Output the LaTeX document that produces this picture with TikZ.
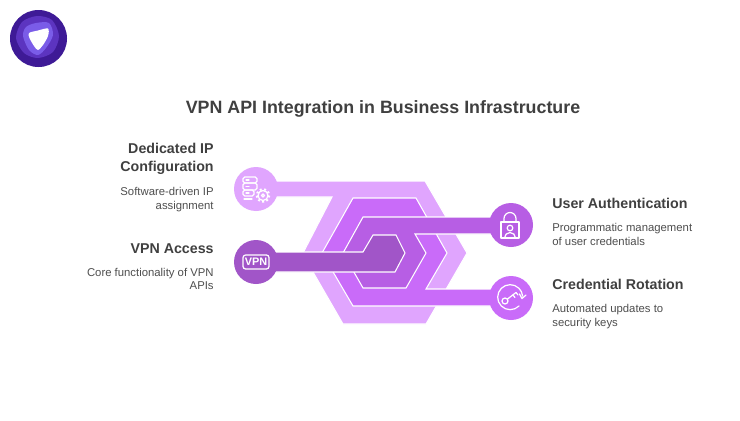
\documentclass[tikz,border=0pt]{standalone}
\usepackage{fontspec}
\setmainfont{Liberation Sans}

\tikzset{
    titletext/.style={font=\fontsize{10.15pt}{12pt}\selectfont\bfseries,text=vpn_text},
    headleft/.style={anchor=east,align=right,inner sep=0,font=\fontsize{8.1pt}{10.3pt}\selectfont\bfseries,text=vpn_text},
    headright/.style={anchor=west,align=left,inner sep=0,font=\fontsize{8.1pt}{10.3pt}\selectfont\bfseries,text=vpn_text},
    subleft/.style={anchor=east,align=right,inner sep=0,font=\fontsize{6.45pt}{7.5pt}\selectfont,text=vpn_sub},
    subright/.style={anchor=west,align=left,inner sep=0,font=\fontsize{6.45pt}{7.5pt}\selectfont,text=vpn_sub},
    iconbg/.style={shape=circle,minimum size=0.88cm,inner sep=0},
    band/.style={draw=white,line width=0.6pt,line join=miter},
    icon/.style={draw=white,line width=0.7pt,line join=round,line cap=round},
}

\begin{document}
\begin{tikzpicture}[x=0.02cm,y=-0.02cm]
    \definecolor{vpn_text}{RGB}{64,64,64}
    \definecolor{vpn_sub}{RGB}{78,78,78}
    \definecolor{vpn_light}{RGB}{224,165,254}
    \definecolor{vpn_mid}{RGB}{201,107,249}
    \definecolor{vpn_inner}{RGB}{183,94,228}
    \definecolor{vpn_core}{RGB}{161,85,200}
    \definecolor{logo_dark}{RGB}{62,26,150}
    \definecolor{logo_mid}{RGB}{92,52,192}
    \definecolor{logo_light}{RGB}{122,92,232}

    \useasboundingbox (0,0) rectangle (740,420);
    \fill[white] (0,0) rectangle (740,420);

    % logo
    \fill[logo_dark] (38.5,38.5) circle (28.5);
    \fill[logo_mid] plot[smooth cycle] coordinates {(37,16) (52,20) (59,36) (53,52) (38,58) (24,53) (16,38) (22,22)};
    \fill[logo_light] plot[smooth cycle] coordinates {(36,23) (49,23) (53,35) (46,48) (38,55) (29,50) (23,36) (26,27)};
    \fill[white] plot[smooth cycle] coordinates {(29,33) (38,30.5) (48,28.5) (48,36) (43,45) (38,50) (34,46) (29.5,38)};

    \node[titletext] (title) at (383,109) {VPN API Integration in Business Infrastructure};

    % the four bands, back to front
    \draw[band,fill=vpn_light] (256,181) to (425,181) to (467,253) to (426,324) to (343,324) to (313,272) to (303,253) to (332,197) to (256,197) to cycle;
    \node[iconbg,fill=vpn_light] (config) at (256,189) {};

    \draw[band,fill=vpn_mid] (353,198) to (416,198) to (447,253) to (426,289) to (511,289) to (511,306) to (353,306) to (322,253) to cycle;
    \node[iconbg,fill=vpn_mid] (rotation) at (511,298) {};

    \draw[band,fill=vpn_inner] (363,217) to (511,217) to (511,234) to (415,234) to (426,253) to (406,288) to (363,288) to (343,253) to cycle;
    \node[iconbg,fill=vpn_inner] (auth) at (511,225) {};

    \draw[band,fill=vpn_core] (373,235) to (396,235) to (405,253) to (395,272) to (256,272) to (256,252) to (363,252) to cycle;
    \node[iconbg,fill=vpn_core] (access) at (256,262) {};

    % server and gear
    \draw[icon,rounded corners=1pt] (243,177) rectangle (257,183);
    \draw[icon,rounded corners=1pt] (243,183) rectangle (257,190);
    \draw[icon,rounded corners=1pt] (243,190) rectangle (254,196);
    \draw[icon] (246,180) to (249,180);
    \draw[icon] (246,186.5) to (249,186.5);
    \draw[icon] (246,193) to (249,193);
    \draw[icon] (244,199) to (252,199);
    \draw[icon] (263,195.5) circle (5);
    \draw[icon,line cap=butt,line width=1.2pt,dash pattern=on 1.1pt off 1.35pt] (263,195.5) circle (6.2);
    \draw[icon] (263,195.5) circle (1.6);

    % vpn badge
    \draw[icon,rounded corners=1.5pt] (243,255) rectangle (269,269);
    \node[text=white,inner sep=0,font=\fontsize{6.2pt}{7pt}\selectfont\bfseries] (vpnbadge) at (256,262) {VPN};

    % lock with user
    \draw[icon] (501,222) rectangle (519,238);
    \draw[icon] (504,222) to (504,218.5) arc (180:360:6) to (516,222);
    \draw[icon] (510,228) circle (2.8);
    \draw[icon] (504.5,238) arc (180:360:5.5);

    % key with rotation arrow
    \draw[icon] (519,306) arc (45:355:12.5);
    \draw[icon] (519.5,294) to (522,298.5) to (526,295);
    \draw[icon] (505,301) circle (3);
    \draw[icon] (507.5,299) to (516,292.5);
    \draw[icon] (513,295) to (515,297.5);
    \draw[icon] (516,292.5) to (518,295);

    % labels on the left
    \node[headleft] (confighead) at (214,158.5) {Dedicated IP\\Configuration};
    \node[subleft] (configsub) at (214,199.5) {Software-driven IP\\assignment};
    \node[headleft] (accesshead) at (214,248.5) {VPN Access};
    \node[subleft] (accesssub) at (214,279) {Core functionality of VPN\\APIs};

    % labels on the right
    \node[headright] (authhead) at (552,203) {User Authentication};
    \node[subright] (authsub) at (552,234.5) {Programmatic management\\of user credentials};
    \node[headright] (rotationhead) at (552,284) {Credential Rotation};
    \node[subright] (rotationsub) at (552,316.5) {Automated updates to\\security keys};
\end{tikzpicture}
\end{document}
